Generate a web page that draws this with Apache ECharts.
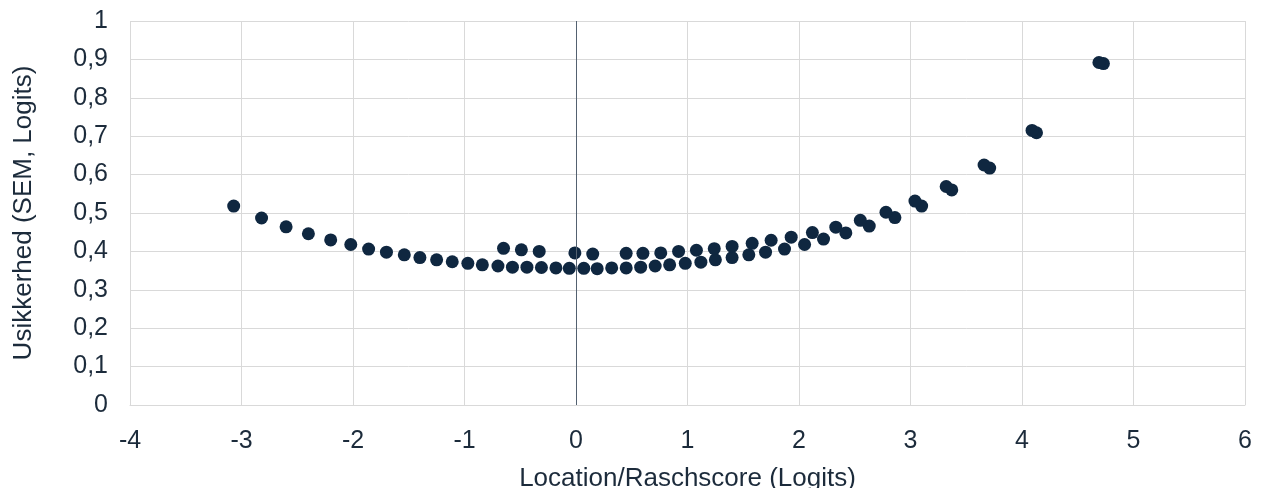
<!DOCTYPE html>
<html>
<head>
<meta charset="utf-8">
<script src="https://cdn.jsdelivr.net/npm/echarts@6/dist/echarts.min.js"></script>
<style>
html,body{margin:0;padding:0;background:#fff;}
#container{width:1263px;height:488px;}
</style>
</head>
<body>
<div id="container"></div>
<script>
// location (logits) og usikkerhed (SEM)
var locLow=[-3.07,-2.82,-2.60,-2.40,-2.20,-2.02,-1.86,-1.70,-1.54,-1.40,-1.25,-1.11,-0.97,-0.84,-0.70,-0.57,-0.44,-0.31,-0.18,-0.06,
    0.07,0.19,0.32,0.45,0.58,0.71,0.84,0.98,1.12,1.25,1.40,1.55,1.70,1.87,2.05,2.22,2.42,2.63,2.86,3.10,3.37,3.71,4.13,4.73];
var semLow=[0.518,0.487,0.464,0.446,0.430,0.418,0.406,0.398,0.391,0.384,0.378,0.373,0.369,0.365,0.362,0.359,0.359,0.358,0.357,0.356,
    0.356,0.355,0.357,0.357,0.359,0.362,0.365,0.369,0.372,0.378,0.384,0.391,0.398,0.406,0.418,0.432,0.448,0.466,0.488,0.518,0.560,0.617,0.709,0.889];
var locHigh=[-0.65,-0.49,-0.33,-0.01,0.15,0.45,0.60,0.76,0.92,1.08,1.24,1.40,1.58,1.75,1.93,2.12,2.33,2.55,2.78,3.04,3.32,3.66,4.09,4.69];
var semHigh=[0.408,0.404,0.400,0.396,0.393,0.395,0.395,0.396,0.400,0.403,0.407,0.413,0.421,0.429,0.437,0.449,0.463,0.481,0.502,0.531,0.569,0.625,0.715,0.892];

var fnt='"Liberation Sans", Arial, sans-serif',txt='#1c2b3b',dot='#0f2740',grid='#d9d9d9';

function pairs(xs,ys){
    var out=[];
    for(var i=0;i<xs.length;i++){
        out.push([xs[i],ys[i]]);
    }
    return out;
}

var myChart=echarts.init(document.getElementById('container'));
var option={
    animation:false,
    grid:{left:130,right:18,top:21,bottom:83,containLabel:false,outerBoundsMode:'none'},
    xAxis:{
        type:'value',min:-4,max:6,interval:1,
        name:'Location/Raschscore (Logits)',nameLocation:'middle',nameGap:61,
        nameTextStyle:{color:txt,fontSize:26,fontFamily:fnt},
        axisLine:{show:true,onZero:false,lineStyle:{color:grid,width:1}},
        axisTick:{show:false},
        axisLabel:{color:txt,fontSize:25,fontFamily:fnt,margin:24},
        splitLine:{show:true,lineStyle:{color:grid,width:1}}
    },
    yAxis:{
        type:'value',min:0,max:1,interval:0.1,
        name:'Usikkerhed (SEM, Logits)',nameLocation:'middle',nameGap:93,
        nameTextStyle:{color:txt,fontSize:26,fontFamily:fnt},
        axisLine:{show:false},
        axisTick:{show:false},
        axisLabel:{color:txt,fontSize:25,fontFamily:fnt,margin:22,
            formatter:function(v){return String(+v.toFixed(1)).replace('.',',');}},
        splitLine:{show:true,lineStyle:{color:grid,width:1}}
    },
    series:[
        {
            type:'scatter',symbolSize:13,itemStyle:{color:dot,opacity:1},
            data:pairs(locLow,semLow),
            markLine:{silent:true,symbol:'none',label:{show:false},
                lineStyle:{color:'#536170',width:1,type:'solid'},
                data:[{xAxis:0}]},
            z:3
        },
        {
            type:'scatter',symbolSize:13,itemStyle:{color:dot,opacity:1},
            data:pairs(locHigh,semHigh),z:3
        }
    ]
};
myChart.setOption(option);
</script>
</body>
</html>
